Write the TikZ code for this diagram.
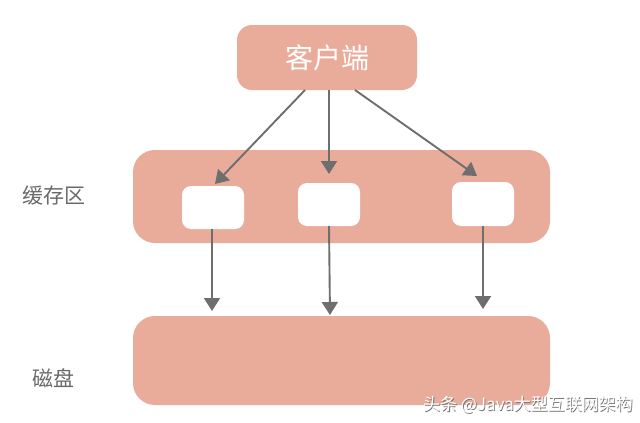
\documentclass[tikz,border=0pt]{standalone}
\usepackage{fontspec}
\newfontfamily\cjk{Noto Sans CJK SC}
\usetikzlibrary{arrows.meta}
\definecolor{salmon}{HTML}{E9AC9A}
\definecolor{arrowgray}{HTML}{6E6E6E}
\definecolor{labelgray}{HTML}{6A6A6A}
\tikzset{
  panel/.style={fill=salmon, draw=none, rounded corners=#1},
  panel/.default=16pt,
  slot/.style={fill=white, draw=none, rounded corners=9pt},
  arr/.style={draw=arrowgray, line width=1.9pt, -{Triangle[length=13pt,width=16pt]}},
  sidelabel/.style={font=\cjk\fontsize{21}{21}\selectfont, text=labelgray, inner sep=0pt},
}
\begin{document}
\begin{tikzpicture}[x=1pt,y=-1pt]
\useasboundingbox[fill=white] (0,0) rectangle (640,423);
% client
\fill[panel=15pt] (237,25) rectangle (417,90);
\node[font=\cjk\fontsize{28}{28}\selectfont, text=white, inner sep=0pt] (client) at (327,58) {客户端};
\coordinate (cl) at (305,90);
\coordinate (cm) at (329,90);
\coordinate (cr) at (355,90);
% cache
\fill[panel=22pt] (133,150) rectangle (550,243);
\node[sidelabel] (cachelabel) at (54,196) {缓存区};
\fill[slot] (182,186) rectangle (244,229);
\fill[slot] (298,183) rectangle (360,226);
\fill[slot] (452,182) rectangle (514,226);
\coordinate (w1n) at (215,184);
\coordinate (w2n) at (329,174);
\coordinate (w3n) at (477,176);
\coordinate (w1s) at (212,229);
\coordinate (w2s) at (329,226);
\coordinate (w3s) at (483,226);
% disk
\fill[panel=22pt] (133,316) rectangle (550,405);
\node[sidelabel] (disklabel) at (53,378) {磁盘};
\coordinate (d1) at (212,311);
\coordinate (d2) at (330,315);
\coordinate (d3) at (483,309);
% arrows
\draw[arr] (cl) -- (w1n);
\draw[arr] (cm) -- (w2n);
\draw[arr] (cr) -- (w3n);
\draw[arr] (w1s) -- (d1);
\draw[arr] (w2s) -- (d2);
\draw[arr] (w3s) -- (d3);
% watermark
\node[font=\cjk\fontsize{17}{17}\selectfont, text=black!55, inner sep=0pt, anchor=west] (wmshadow) at (423.8,405.8) {头条 @Java大型互联网架构};
\node[font=\cjk\fontsize{17}{17}\selectfont, text=white, inner sep=0pt, anchor=west] (wm) at (423,405) {头条 @Java大型互联网架构};
\end{tikzpicture}
\end{document}
